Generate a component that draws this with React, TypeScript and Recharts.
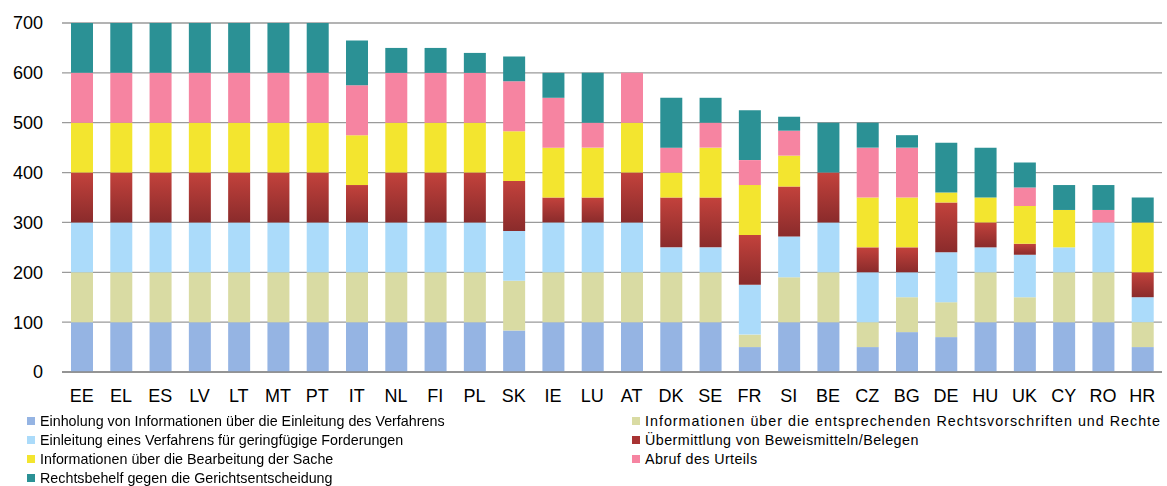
import React from "react"
import { Bar, BarChart, CartesianGrid, XAxis, YAxis } from "recharts"

const COUNTRIES = ["EE", "EL", "ES", "LV", "LT", "MT", "PT", "IT", "NL", "FI", "PL", "SK", "IE", "LU", "AT", "DK", "SE", "FR", "SI", "BE", "CZ", "BG", "DE", "HU", "UK", "CY", "RO", "HR"]

const EINHOLUNG = [100, 100, 100, 100, 100, 100, 100, 100, 100, 100, 100, 83, 100, 100, 100, 100, 100, 50, 100, 100, 50, 80, 70, 100, 100, 100, 100, 50]
const RECHTSVORSCHRIFTEN = [100, 100, 100, 100, 100, 100, 100, 100, 100, 100, 100, 100, 100, 100, 100, 100, 100, 25, 90, 100, 50, 70, 70, 100, 50, 100, 100, 50]
const EINLEITUNG = [100, 100, 100, 100, 100, 100, 100, 100, 100, 100, 100, 100, 100, 100, 100, 50, 50, 100, 82, 100, 100, 50, 100, 50, 85, 50, 100, 50]
const UEBERMITTLUNG = [100, 100, 100, 100, 100, 100, 100, 75, 100, 100, 100, 100, 50, 50, 100, 100, 100, 100, 100, 100, 50, 50, 100, 50, 22, 0, 0, 50]
const BEARBEITUNG = [100, 100, 100, 100, 100, 100, 100, 100, 100, 100, 100, 100, 100, 100, 100, 50, 100, 100, 62, 0, 100, 100, 20, 50, 76, 75, 0, 100]
const URTEIL = [100, 100, 100, 100, 100, 100, 100, 100, 100, 100, 100, 100, 100, 50, 100, 50, 50, 50, 50, 0, 100, 100, 0, 0, 37, 0, 25, 0]
const RECHTSBEHELF = [100, 100, 100, 100, 100, 100, 100, 90, 50, 50, 40, 50, 50, 100, 0, 100, 50, 100, 28, 100, 50, 25, 100, 100, 50, 50, 50, 50]

const Y_TICKS = [0, 100, 200, 300, 400, 500, 600, 700]

const SERIES = [
  { key: "einholung", name: "Einholung von Informationen über die Einleitung des Verfahrens", color: "#95b4e3", values: EINHOLUNG },
  { key: "rechtsvorschriften", name: "Informationen über die entsprechenden Rechtsvorschriften und Rechte", color: "#d9dba3", values: RECHTSVORSCHRIFTEN },
  { key: "einleitung", name: "Einleitung eines Verfahrens für geringfügige Forderungen", color: "#abdbfa", values: EINLEITUNG },
  { key: "uebermittlung", name: "Übermittlung von Beweismitteln/Belegen", color: "#a83333", values: UEBERMITTLUNG },
  { key: "bearbeitung", name: "Informationen über die Bearbeitung der Sache", color: "#f3e52f", values: BEARBEITUNG },
  { key: "urteil", name: "Abruf des Urteils", color: "#f684a1", values: URTEIL },
  { key: "rechtsbehelf", name: "Rechtsbehelf gegen die Gerichtsentscheidung", color: "#2b9195", values: RECHTSBEHELF },
]

const data = COUNTRIES.map((c, i) => {
  const row: Record<string, string | number> = { name: c }
  SERIES.forEach((s) => (row[s.key] = s.values[i]))
  return row
})

const FONT = "'Liberation Sans', Arial, Helvetica, sans-serif"

// legend in the original is laid out row by row in two columns
const LEGEND_LEFT = [0, 2, 4, 6]
const LEGEND_RIGHT = [1, 3, 5]
// the source renders some entries a bit wider (loose spacing after t / f)
const LEGEND_SPACING: Record<number, number> = { 1: 1, 3: 0.45, 5: 0.4 }

function LegendItem({ idx }: { idx: number }) {
  const s = SERIES[idx]
  return (
    <div style={{ display: "flex", alignItems: "center", height: 19 }}>
      <div style={{ width: 8, height: 8, background: s.color, marginRight: 5 }} />
      <span style={{ letterSpacing: LEGEND_SPACING[idx] ?? 0 }}>{s.name}</span>
    </div>
  )
}

export default function App() {
  return (
    <div style={{ position: "fixed", left: 0, top: 0, width: 1167, height: 486, background: "#fff", fontFamily: FONT }}>
      <BarChart width={1167} height={486} data={data} margin={{ top: 23, right: 5, bottom: 84, left: 0 }}>
        <defs>
          <linearGradient id="redGrad" x1="0" y1="0" x2="0" y2="1">
            <stop offset="0%" stopColor="#c3423c" />
            <stop offset="100%" stopColor="#8a2b2b" />
          </linearGradient>
        </defs>
        <CartesianGrid vertical={false} stroke="#9a9a9a" strokeWidth={1.3} />
        <XAxis
          dataKey="name"
          height={30}
          tickLine={false}
          tickSize={0}
          tickMargin={17}
          stroke="#8a8a8a"
          strokeWidth={1.3}
          interval={0}
          tick={{ fill: "#000", fontSize: 18, fontFamily: FONT }}
        />
        <YAxis
          width={62}
          domain={[0, 700]}
          ticks={Y_TICKS}
          axisLine={false}
          tickLine={false}
          tickSize={0}
          tickMargin={19}
          tick={{ fill: "#000", fontSize: 18, fontFamily: FONT }}
        />
        {SERIES.map((s) => (
          <Bar
            key={s.key}
            dataKey={s.key}
            name={s.name}
            stackId="a"
            barSize={22}
            fill={s.key === "uebermittlung" ? "url(#redGrad)" : s.color}
            isAnimationActive={false}
          />
        ))}
      </BarChart>
      <div style={{ position: "absolute", left: 27, top: 411, fontSize: 14.3, color: "#000" }}>
        {LEGEND_LEFT.map((i) => (
          <LegendItem key={i} idx={i} />
        ))}
      </div>
      <div style={{ position: "absolute", left: 632, top: 411, fontSize: 14.3, color: "#000" }}>
        {LEGEND_RIGHT.map((i) => (
          <LegendItem key={i} idx={i} />
        ))}
      </div>
    </div>
  )
}
